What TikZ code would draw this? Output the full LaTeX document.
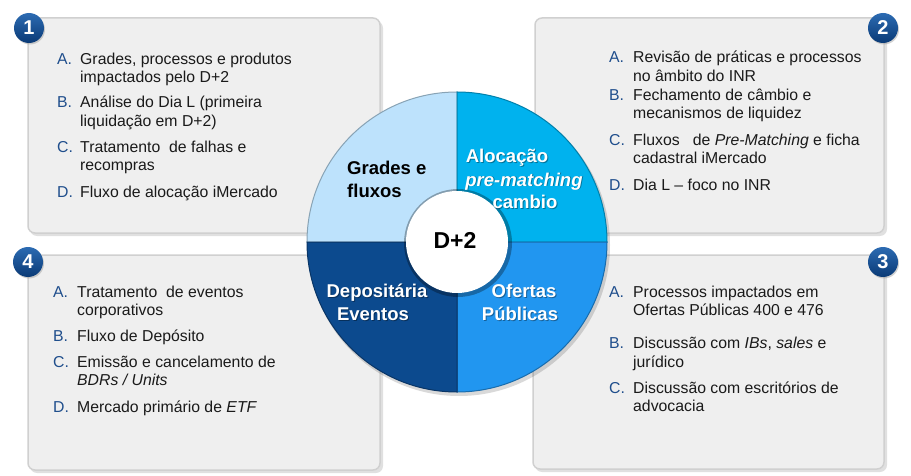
\documentclass[tikz,border=0pt]{standalone}
\usepackage{fontspec}
\setmainfont{Liberation Sans}
\usetikzlibrary{shadows}
\definecolor{boxfill}{HTML}{EFEFEF}
\definecolor{boxline}{HTML}{D0D0D0}
\definecolor{lblue}{HTML}{1F4E8C}
\definecolor{txt}{HTML}{1A1A1A}
\definecolor{segTL}{HTML}{BDE2FC}
\definecolor{segTR}{HTML}{00B2EE}
\definecolor{segBR}{HTML}{2196F0}
\definecolor{segBL}{HTML}{0C4A8E}
\definecolor{navyT}{HTML}{2C6BB2}
\definecolor{navyB}{HTML}{0A3A76}
\begin{document}
\begin{tikzpicture}[x=1pt,y=-1pt,
  panel/.style={draw=boxline, line width=1.5pt, fill=boxfill, rounded corners=7pt},
  pshadow/.style={fill=black, opacity=0.12, rounded corners=7pt},
  lettr/.style={anchor=base west, inner sep=0pt, text=lblue, font=\fontsize{15.8}{18.5}\selectfont},
  itm/.style={anchor=base west, inner sep=0pt, text=txt, font=\fontsize{15.8}{18.5}\selectfont},
  numc/.style={circle, minimum size=30pt, inner sep=0pt, top color=navyT, bottom color=navyB,
    text=white, font=\bfseries\fontsize{20}{20}\selectfont,
    drop shadow={opacity=0.35, shadow xshift=1pt, shadow yshift=-1.5pt}},
  segtxt/.style={anchor=base, inner sep=0pt, text=white, font=\bfseries\fontsize{18.5}{22}\selectfont},
  segshd/.style={anchor=base, inner sep=0pt, text=black, opacity=0.35, font=\bfseries\fontsize{18.5}{22}\selectfont},
  segtxtk/.style={anchor=base west, inner sep=0pt, text=black, font=\bfseries\fontsize{18.5}{22}\selectfont}
]
\useasboundingbox[fill=white] (0,0) rectangle (911,476);

% panels
\fill[pshadow] (30,21) rectangle (383,236);
\fill[pshadow] (537,21) rectangle (887,236);
\fill[pshadow] (30,258) rectangle (383,473);
\fill[pshadow] (535,258) rectangle (887,472);
\path[panel] (28,18) rectangle (380,233);
\path[panel] (535,18) rectangle (884,233);
\path[panel] (28,255) rectangle (380,470);
\path[panel] (533,255) rectangle (884,469);

% number badges
\node[numc] (n1) at (29,28) {1};
\node[numc] (n2) at (883,28) {2};
\node[numc] (n3) at (883,262) {3};
\node[numc] (n4) at (28,262) {4};

% panel 1
\node[lettr] (l1a) at (57,65) {A.};
\node[itm] (t1a1) at (80,65) {Grades, processos e produtos};
\node[itm] (t1a2) at (80,83) {impactados pelo D+2};
\node[lettr] (l1b) at (57,108) {B.};
\node[itm] (t1b1) at (80,108) {Análise do Dia L (primeira};
\node[itm] (t1b2) at (80,127) {liquidação em D+2)};
\node[lettr] (l1c) at (57,153) {C.};
\node[itm] (t1c1) at (80,153) {Tratamento\ \ de falhas e};
\node[itm] (t1c2) at (80,171) {recompras};
\node[lettr] (l1d) at (57,197) {D.};
\node[itm] (t1d1) at (80,197) {Fluxo de alocação iMercado};

% panel 2
\node[lettr] (l2a) at (609,63) {A.};
\node[itm] (t2a1) at (633,63) {Revisão de práticas e processos};
\node[itm] (t2a2) at (633,82) {no âmbito do INR};
\node[lettr] (l2b) at (609,101) {B.};
\node[itm] (t2b1) at (633,101) {Fechamento de câmbio e};
\node[itm] (t2b2) at (633,119) {mecanismos de liquidez};
\node[lettr] (l2c) at (609,146) {C.};
\node[itm] (t2c1) at (633,146) {Fluxos\ \ \ de \textit{Pre-Matching} e ficha};
\node[itm] (t2c2) at (633,164) {cadastral iMercado};
\node[lettr] (l2d) at (609,191) {D.};
\node[itm] (t2d1) at (633,191) {Dia L -- foco no INR};

% panel 4
\node[lettr] (l4a) at (53,297) {A.};
\node[itm] (t4a1) at (77,297) {Tratamento\ \ de eventos};
\node[itm] (t4a2) at (77,315) {corporativos};
\node[lettr] (l4b) at (53,341) {B.};
\node[itm] (t4b1) at (77,341) {Fluxo de Depósito};
\node[lettr] (l4c) at (53,367) {C.};
\node[itm] (t4c1) at (77,367) {Emissão e cancelamento de};
\node[itm] (t4c2) at (77,385) {\textit{BDRs / Units}};
\node[lettr] (l4d) at (53,412) {D.};
\node[itm] (t4d1) at (77,412) {Mercado primário de \textit{ETF}};

% panel 3
\node[lettr] (l3a) at (609,297) {A.};
\node[itm] (t3a1) at (633,297) {Processos impactados em};
\node[itm] (t3a2) at (633,315) {Ofertas Públicas 400 e 476};
\node[lettr] (l3b) at (609,348) {B.};
\node[itm] (t3b1) at (633,348) {Discussão com \textit{IBs}, \textit{sales} e};
\node[itm] (t3b2) at (633,367) {jurídico};
\node[lettr] (l3c) at (609,393) {C.};
\node[itm] (t3c1) at (633,393) {Discussão com escritórios de};
\node[itm] (t3c2) at (633,411) {advocacia};

% donut
\coordinate (c) at (457,242);
\fill[black, opacity=0.15] (459,245) circle (151);
\filldraw[fill=segTL, draw=segTL!72!black, line width=1pt] (c) -- ++(180:150) arc[start angle=180, end angle=270, radius=150] -- cycle;
\filldraw[fill=segTR, draw=segTR!72!black, line width=1pt] (c) -- ++(270:150) arc[start angle=270, end angle=360, radius=150] -- cycle;
\filldraw[fill=segBR, draw=segBR!72!black, line width=1pt] (c) -- ++(0:150) arc[start angle=0, end angle=90, radius=150] -- cycle;
\filldraw[fill=segBL, draw=segBL!72!black, line width=1pt] (c) -- ++(90:150) arc[start angle=90, end angle=180, radius=150] -- cycle;
\fill[black, opacity=0.3] (458,243) circle (54);
\fill[white] (c) circle (51);

% donut labels
\node[segtxtk] (g1) at (347,175) {Grades e};
\node[segtxtk] (g2) at (347,197) {fluxos};
\node[segshd] (a1s) at (508,164) {Alocação};
\node[segshd] (a2s) at (525,187) {\textit{pre-matching}};
\node[segshd] (a3s) at (526,209) {cambio};
\node[segshd] (d1s) at (378,298) {Depositária};
\node[segshd] (d2s) at (374,321) {Eventos};
\node[segshd] (o1s) at (525,298) {Ofertas};
\node[segshd] (o2s) at (521,321) {Públicas};
\node[segtxt] (a1) at (507,163) {Alocação};
\node[segtxt] (a2) at (524,186) {\textit{pre-matching}};
\node[segtxt] (a3) at (525,208) {cambio};
\node[segtxt] (d1) at (377,297) {Depositária};
\node[segtxt] (d2) at (373,320) {Eventos};
\node[segtxt] (o1) at (524,297) {Ofertas};
\node[segtxt] (o2) at (520,320) {Públicas};
\node[anchor=base, inner sep=0pt, font=\bfseries\fontsize{23}{26}\selectfont] (ctr) at (455,248) {D+2};
\end{tikzpicture}
\end{document}
